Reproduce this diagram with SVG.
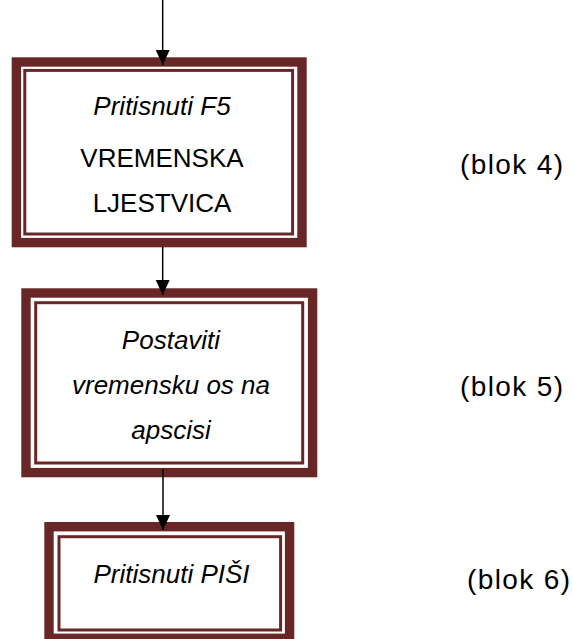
<svg xmlns="http://www.w3.org/2000/svg" width="573" height="639" viewBox="0 0 573 639">
<style>
.outer{fill:none;stroke:#692627;stroke-width:9.4}
.inner{fill:none;stroke:#692627;stroke-width:3}
.bg{fill:#ffffff}
.t{font-family:"Liberation Sans",Arial,sans-serif;font-size:26px;fill:#000;text-anchor:middle}
.i{font-style:italic}
.lbl{font-family:"Liberation Sans",Arial,sans-serif;font-size:28px;letter-spacing:1.4px;fill:#000}
.conn{stroke:#000;stroke-width:1.5;fill:none}
</style>
<defs>
<marker id="ah" markerUnits="userSpaceOnUse" markerWidth="16" markerHeight="16" viewBox="0 0 16 16" refX="15" refY="8" orient="auto">
<path d="M0,1 L15,8 L0,15 Z" fill="#000"/>
</marker>
</defs>
<rect width="573" height="639" fill="#fff"/>
<g id="node-blok4">
<rect class="bg" x="11.7" y="57.3" width="295" height="190"/>
<rect class="outer" x="16.4" y="62" width="285.6" height="180.6"/>
<rect class="inner" x="24.8" y="70.4" width="267.8" height="163.6"/>
<text class="t i" x="162" y="115">Pritisnuti F5</text>
<text class="t" x="162" y="167">VREMENSKA</text>
<text class="t" x="162" y="212">LJESTVICA</text>
</g>
<g id="node-blok5">
<rect class="bg" x="21.3" y="288.3" width="296" height="189"/>
<rect class="outer" x="26" y="293" width="286.6" height="179.6"/>
<rect class="inner" x="35.7" y="302.7" width="267" height="160.3"/>
<text class="t i" x="171" y="349">Postaviti</text>
<text class="t i" x="171" y="394">vremensku os na</text>
<text class="t i" x="171" y="439">apscisi</text>
</g>
<g id="node-blok6">
<rect class="bg" x="44.3" y="522" width="250" height="121"/>
<rect class="outer" x="49" y="526.7" width="240.6" height="111.6"/>
<rect class="inner" x="59" y="536.7" width="221.6" height="93.3"/>
<text class="t i" x="171.5" y="583">Pritisnuti PIŠI</text>
</g>
<g id="labels">
<text class="lbl" x="460" y="174">(blok 4)</text>
<text class="lbl" x="460" y="396">(blok 5)</text>
<text class="lbl" x="467" y="589">(blok 6)</text>
</g>
<g id="connectors">
<line class="conn" x1="162.7" y1="0" x2="162.7" y2="65" marker-end="url(#ah)"/>
<line class="conn" x1="162.7" y1="247" x2="162.7" y2="295" marker-end="url(#ah)"/>
<line class="conn" x1="163" y1="469" x2="163" y2="530" marker-end="url(#ah)"/>
</g>
</svg>
